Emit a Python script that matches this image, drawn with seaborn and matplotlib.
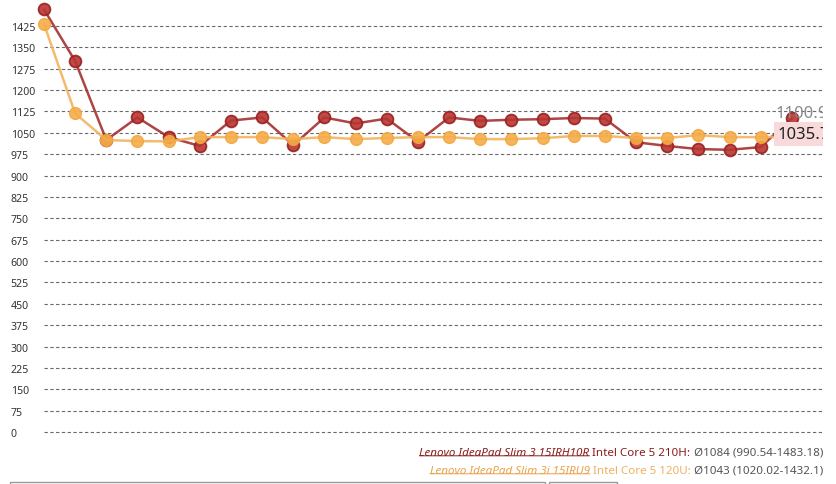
import numpy as np
import pandas as pd
import seaborn as sns
import matplotlib.pyplot as plt
from matplotlib.patches import Rectangle

# values
slim3_name = "Lenovo IdeaPad Slim 3 15IRH10R"
slim3_cpu = "Intel Core 5 210H:"
slim3_stats = "Ø1084 (990.54-1483.18)"
slim3_values = [1483.18, 1302, 1025, 1104, 1035, 1004, 1093, 1104, 1007, 1104,
                1083, 1100, 1019, 1104, 1092, 1096, 1098, 1102, 1100, 1017,
                1004, 993, 990.54, 1000, 1100.9]

slim3i_name = "Lenovo IdeaPad Slim 3i 15IRU9"
slim3i_cpu = "Intel Core 5 120U:"
slim3i_stats = "Ø1043 (1020.02-1432.1)"
slim3i_values = [1432.1, 1118, 1025, 1021, 1020.02, 1035, 1035, 1035, 1028, 1035,
                 1028, 1032, 1035, 1035, 1028, 1028, 1031, 1039, 1039, 1032,
                 1032, 1042, 1035, 1035, 1035.7]

y_ticks = list(range(0, 1426, 75))

red = "#a5302e"
orange = "#f2b45e"

df = pd.DataFrame({
    "run": list(range(len(slim3_values))) + list(range(len(slim3i_values))),
    "value": slim3_values + slim3i_values,
    "model": [slim3_name] * len(slim3_values) + [slim3i_name] * len(slim3i_values),
})

sns.set_style("white")
plt.rcParams["font.family"] = ["Noto Sans", "DejaVu Sans"]

fig = plt.figure(figsize=(8.37, 4.85), dpi=100)
ax = fig.add_axes([44 / 837, 1 - 440 / 485, (823 - 44) / 837, 440 / 485])

sns.lineplot(data=df[df.model == slim3_name], x="run", y="value", color=red,
             linewidth=1.8, marker="o", markersize=8.5, markerfacecolor="#b83533",
             markeredgecolor="#98211f", markeredgewidth=1.3, alpha=0.9, ax=ax,
             legend=False, clip_on=False)
sns.lineplot(data=df[df.model == slim3i_name], x="run", y="value", color=orange,
             linewidth=1.8, marker="o", markersize=8.5, markerfacecolor="#f6ad4a",
             markeredgecolor="#f3a63c", markeredgewidth=1.0, alpha=0.9, ax=ax,
             legend=False, clip_on=False)

ax.set_xlim(0, 25)
ax.set_ylim(-24.6, 1519.8)
ax.set_yticks(y_ticks)
ax.set_xticks([])
ax.set_xlabel("")
ax.set_ylabel("")
for s in ax.spines.values():
    s.set_visible(False)
ax.yaxis.grid(True, linestyle=(0, (3, 2.2)), linewidth=0.8, color="#6a6a6a")
ax.set_axisbelow(True)
ax.tick_params(axis="y", length=0, pad=24, labelsize=7.6, labelcolor="#333333")
for lab in ax.get_yticklabels():
    lab.set_horizontalalignment("left")

# end-of-line value labels (clipped at the plot edge)
t = ax.annotate(f"{slim3_values[-1]:.1f}", xy=(24, slim3_values[-1]),
                xytext=(-11.5, 3.5), textcoords="offset points",
                ha="left", va="center", fontsize=12, color="#8a8a8a")
t.set_clip_on(True)
t.set_clip_path(ax.patch)
t = ax.annotate(f"{slim3i_values[-1]:.1f}", xy=(24, slim3i_values[-1]),
                xytext=(-10, 2), textcoords="offset points",
                ha="left", va="center", fontsize=12, color="#222222",
                bbox=dict(boxstyle="square,pad=0.25", facecolor="#f9dada",
                          edgecolor="none"))
t.set_clip_on(True)
t.set_clip_path(ax.patch)

# legend lines at the bottom right
legend_rows = [
    (459 / 485, slim3_name, slim3_cpu, slim3_stats, "#8b1c1c", "#8b1c1c"),
    (477 / 485, slim3i_name, slim3i_cpu, slim3i_stats, "#eaa24a", "#f0b060"),
]
fs = 8.35
for ypix, name, cpu, stats, name_col, cpu_col in legend_rows:
    y = 1 - ypix
    t1 = fig.text(823 / 837, y, " " + stats, ha="right", va="bottom",
                  fontsize=fs, color="#555555")
    t2 = ax.annotate(" " + cpu, xy=(0, 0), xycoords=t1, ha="right",
                     va="bottom", fontsize=fs, color=cpu_col,
                     annotation_clip=False)
    t3 = ax.annotate(name, xy=(0, 0), xycoords=t2, ha="right", va="bottom",
                     fontsize=fs, color=name_col, style="italic",
                     annotation_clip=False)
    ax.annotate("", xy=(0, 0.2), xycoords=t3, xytext=(1, 0.2),
                textcoords=t3, annotation_clip=False,
                arrowprops=dict(arrowstyle="-", color=name_col, lw=0.7,
                                shrinkA=0, shrinkB=0))

# partly visible controls at the very bottom
fig.add_artist(Rectangle((10 / 837, -12 / 485), 535 / 837, 14 / 485,
                         transform=fig.transFigure, facecolor="none",
                         edgecolor="#999999", lw=1))
fig.add_artist(Rectangle((549 / 837, -12 / 485), 68 / 837, 14 / 485,
                         transform=fig.transFigure, facecolor="none",
                         edgecolor="#999999", lw=1))

fig.savefig("out.png", dpi=100, facecolor="white")
